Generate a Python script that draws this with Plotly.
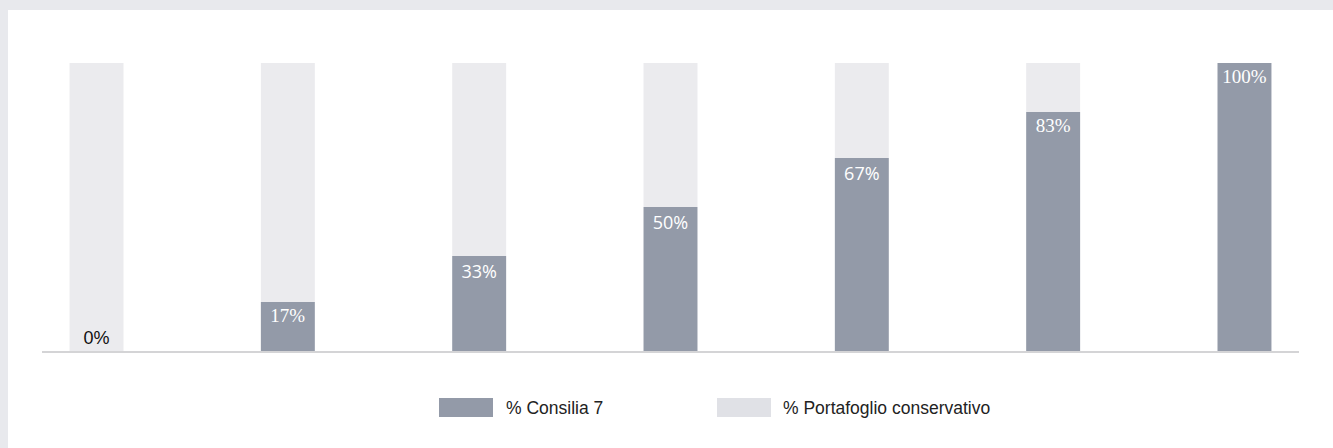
import plotly.graph_objects as go

categories = ["1", "2", "3", "4", "5", "6", "7"]
consilia = [0, 17, 33, 50, 67, 83, 100]
conservativo = [100, 83, 67, 50, 33, 17, 0]
labels = ["0%", "17%", "33%", "50%", "67%", "83%", "100%"]
series_names = ["% Consilia 7", "% Portafoglio conservativo"]

W, H = 1333, 448
L, R, T, B = 42, 34, 63, 97
PW, PH = W - L - R, H - T - B

def px(x):
    return (x - L) / PW

def py(y):
    return (H - B - y) / PH

DARK = "#939aa8"
LIGHT = "#ebebee"
LIGHT_LEG = "#e0e1e6"
BORDER = "#e8e9ed"

fig = go.Figure()
fig.add_trace(go.Bar(
    x=categories, y=conservativo, base=consilia,
    marker=dict(color=LIGHT, line=dict(width=0)),
    width=0.282, showlegend=False, name=series_names[1], hoverinfo="skip",
))
fig.add_trace(go.Bar(
    x=categories, y=consilia,
    marker=dict(color=DARK, line=dict(width=0)),
    width=0.282, showlegend=False, name=series_names[0],
    text=labels,
    textposition=["outside"] + ["inside"] * 6,
    insidetextanchor="end",
    textangle=0,
    constraintext="none",
    cliponaxis=False,
    textfont=dict(
        family=["Liberation Sans", "Liberation Serif", "Open Sans", "Open Sans",
                "Open Sans", "Liberation Serif", "Liberation Serif"],
        size=[18, 19, 18, 18, 18, 19, 19],
        color=["#111111"] + ["#ffffff"] * 6,
    ),
))

shapes = [
    # gray frame (top and left)
    dict(type="rect", xref="paper", yref="paper", x0=px(0), x1=px(W), y0=py(0), y1=py(10),
         fillcolor=BORDER, line=dict(width=0), layer="below"),
    dict(type="rect", xref="paper", yref="paper", x0=px(0), x1=px(8), y0=py(0), y1=py(H),
         fillcolor=BORDER, line=dict(width=0), layer="below"),
    # legend swatches
    dict(type="rect", xref="paper", yref="paper", x0=px(439), x1=px(493), y0=py(417), y1=py(398),
         fillcolor=DARK, line=dict(width=0)),
    dict(type="rect", xref="paper", yref="paper", x0=px(717), x1=px(771), y0=py(417), y1=py(398),
         fillcolor=LIGHT_LEG, line=dict(width=0)),
]
annotations = [
    dict(xref="paper", yref="paper", x=px(504), y=py(407.5), text=series_names[0],
         showarrow=False, xanchor="left", yanchor="middle",
         font=dict(family="Liberation Sans", size=17.5, color="#222222")),
    dict(xref="paper", yref="paper", x=px(781), y=py(407.5), text=series_names[1],
         showarrow=False, xanchor="left", yanchor="middle",
         font=dict(family="Liberation Sans", size=17.5, color="#222222")),
]

fig.update_layout(
    width=W, height=H,
    margin=dict(l=L, r=R, t=T, b=B, pad=0),
    paper_bgcolor="#ffffff", plot_bgcolor="#ffffff",
    barmode="overlay",
    shapes=shapes, annotations=annotations,
    xaxis=dict(type="category", range=[-0.285, 6.285], showline=True, linecolor="#d4d4d6",
               linewidth=2, showgrid=False, zeroline=False, showticklabels=False, ticks=""),
    yaxis=dict(range=[0, 100], showline=False, showgrid=False, zeroline=False,
               showticklabels=False, ticks=""),
)

fig.write_html(
    "out.html",
    config={"displayModeBar": False},
    post_script="document.body.style.margin='0';document.body.style.padding='0';document.body.style.overflow='hidden';",
)
